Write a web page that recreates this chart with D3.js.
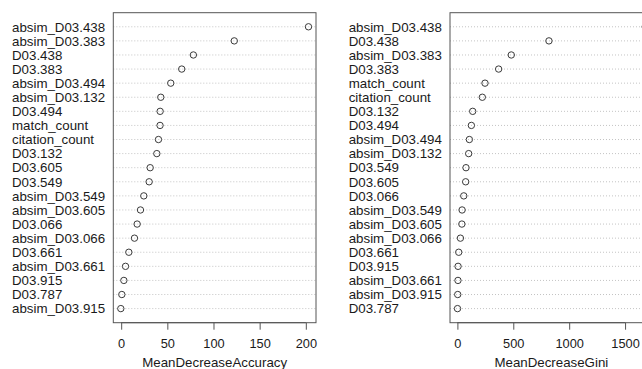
<!DOCTYPE html>
<html>
<head>
<style>
  body { margin: 0; background: #fff; }
  svg { display: block; font-family: "Liberation Sans", Arial, sans-serif; }
</style>
</head>
<body>
<svg id="chart" width="642" height="369"></svg>
<script src="https://d3js.org/d3.v7.min.js"></script>
<script>
// variable importance, top to bottom as plotted
var accLabels = ["absim_D03.438", "absim_D03.383", "D03.438", "D03.383", "absim_D03.494",
  "absim_D03.132", "D03.494", "match_count", "citation_count", "D03.132", "D03.605",
  "D03.549", "absim_D03.549", "absim_D03.605", "D03.066", "absim_D03.066", "D03.661",
  "absim_D03.661", "D03.915", "D03.787", "absim_D03.915"];
var accValues = [202.9, 122.5, 78.2, 65.6, 53.7, 42.9, 42.2, 42.1, 40.4, 38.6, 31.4,
  30.3, 24.5, 20.9, 17.3, 14.4, 8.3, 4.7, 2.9, 0.7, -0.4];
var accTicks = [0, 50, 100, 150, 200];

var giniLabels = ["absim_D03.438", "D03.438", "absim_D03.383", "D03.383", "match_count",
  "citation_count", "D03.132", "D03.494", "absim_D03.494", "absim_D03.132", "D03.549",
  "D03.605", "D03.066", "absim_D03.549", "absim_D03.605", "absim_D03.066", "D03.661",
  "D03.915", "absim_D03.661", "absim_D03.915", "D03.787"];
var giniValues = [1680, 819, 482, 369, 247, 223, 137, 125, 107, 101, 77,
  74, 57, 42, 40, 27, 12, 6, 5, 3, 1];
var giniTicks = [0, 500, 1000, 1500];

var svg = d3.select("#chart");
var fs = 13.3, tfs = 12.8;

function panel(ox, labels, values, ticks, title) {
  var boxL = ox + 113.3, boxR = ox + 316, top = 12.7, bottom = 322.7;
  var lo = d3.min(values), hi = d3.max(values), pad = (hi - lo) * 0.04;
  var x = d3.scaleLinear().domain([lo - pad, hi + pad]).range([boxL, boxR]);
  var y = d3.scaleLinear().domain([0, labels.length + 1]).range([top, bottom]);

  var g = svg.append("g");

  // dotted guide lines
  g.selectAll("line.grid").data(labels).enter().append("line")
    .attr("class", "grid")
    .attr("x1", boxL).attr("x2", boxR)
    .attr("y1", function(d, i) { return y(i + 1); })
    .attr("y2", function(d, i) { return y(i + 1); })
    .attr("stroke", "#c4c4c4").attr("stroke-dasharray", "1,2");

  // row labels, left aligned
  g.selectAll("text.lab").data(labels).enter().append("text")
    .attr("class", "lab")
    .attr("x", ox + 12)
    .attr("y", function(d, i) { return y(i + 1); })
    .attr("dy", "0.36em")
    .attr("font-size", fs)
    .attr("fill", "#1a1a1a")
    .text(function(d) { return d; });

  g.selectAll("circle").data(values).enter().append("circle")
    .attr("cx", function(d) { return x(d); })
    .attr("cy", function(d, i) { return y(i + 1); })
    .attr("r", 3.2)
    .attr("fill", "none")
    .attr("stroke", "#3a3a3a").attr("stroke-width", 1);

  g.append("rect")
    .attr("x", boxL).attr("y", top)
    .attr("width", boxR - boxL).attr("height", bottom - top)
    .attr("fill", "none").attr("stroke", "#555").attr("stroke-width", 1);

  var axis = d3.axisBottom(x).tickValues(ticks).tickSize(7).tickPadding(9.3)
    .tickFormat(d3.format("d"));
  var ag = g.append("g").attr("transform", "translate(0," + bottom + ")").call(axis);
  ag.select(".domain").remove();
  ag.append("line")
    .attr("x1", x(ticks[0])).attr("x2", x(ticks[ticks.length - 1]))
    .attr("stroke", "#555");
  ag.selectAll(".tick line").attr("stroke", "#555");
  ag.selectAll(".tick text").attr("font-size", tfs).attr("fill", "#1a1a1a")
    .attr("font-family", "Liberation Sans, Arial, sans-serif");

  g.append("text")
    .attr("x", (boxL + boxR) / 2).attr("y", 366.5)
    .attr("text-anchor", "middle")
    .attr("font-size", fs).attr("fill", "#1a1a1a")
    .text(title);
}

panel(0, accLabels, accValues, accTicks, "MeanDecreaseAccuracy");
panel(336.7, giniLabels, giniValues, giniTicks, "MeanDecreaseGini");
</script>
</body>
</html>
